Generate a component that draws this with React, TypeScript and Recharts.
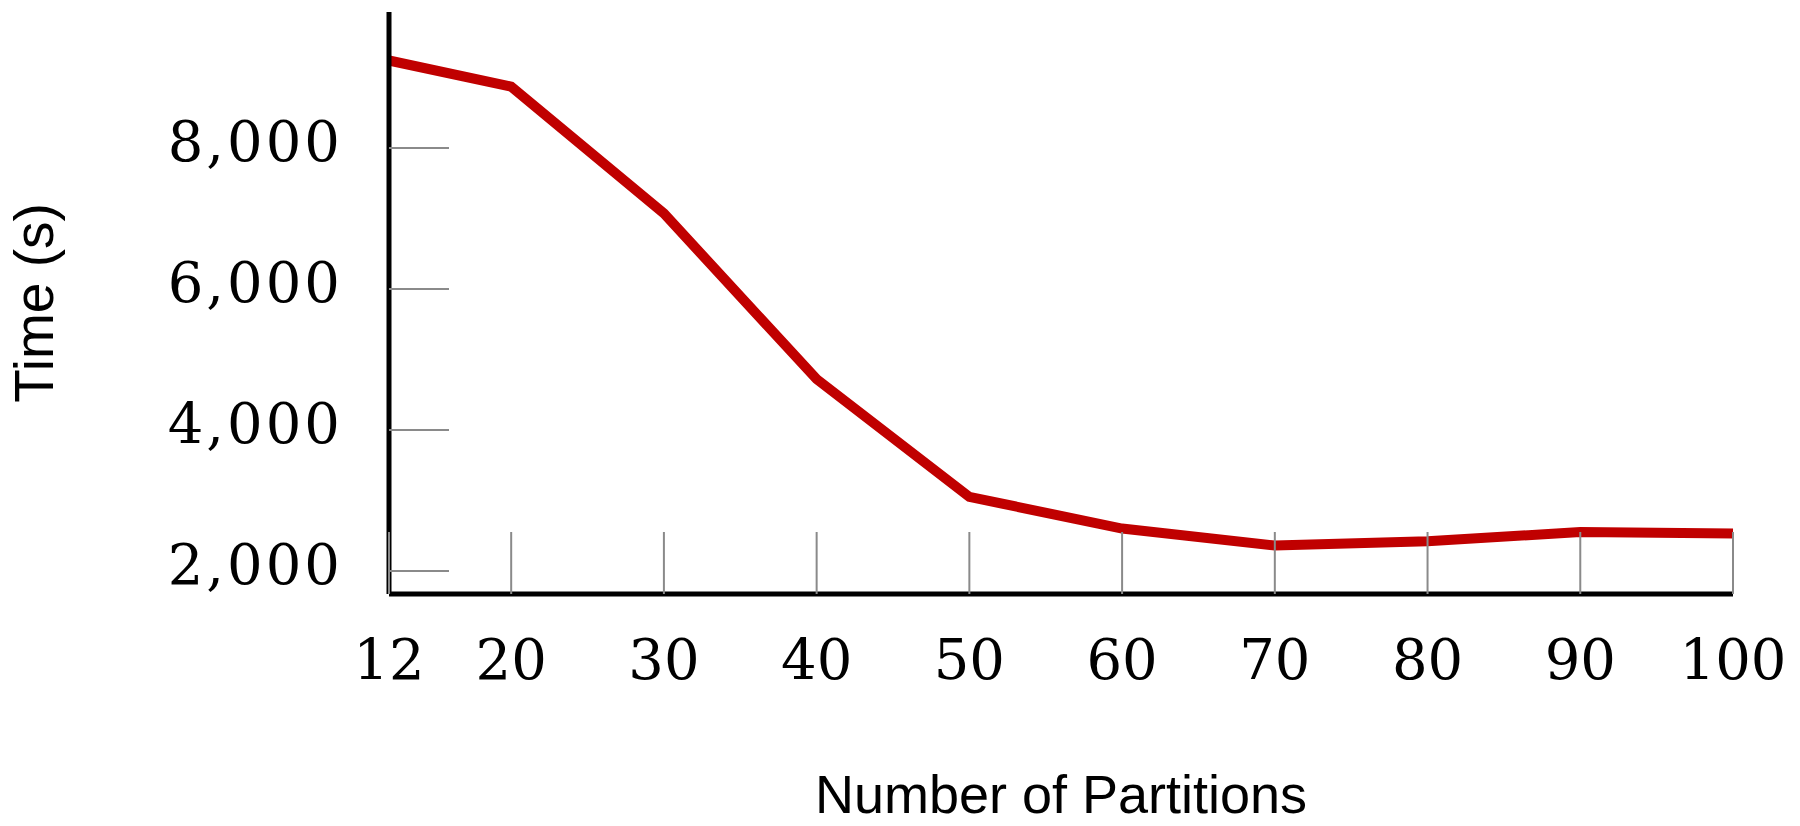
import { LineChart, Line, XAxis, YAxis } from "recharts";

// Number of partitions vs. run time
const partitions = [12, 20, 30, 40, 50, 60, 70, 80, 90, 100];
const timeSeconds = [9240, 8870, 7070, 4720, 3050, 2600, 2360, 2420, 2550, 2530];
const xTicks = [12, 20, 30, 40, 50, 60, 70, 80, 90, 100];
const yTicks = [2000, 4000, 6000, 8000];

const data = partitions.map((p, i) => ({ p, time: timeSeconds[i] }));

const TICK_COLOR = "#8a8a8a";
const LABEL_FONT = "'DejaVu Serif', serif";
const TITLE_FONT = "'Liberation Sans', Arial, sans-serif";

function XTick(props: any) {
    const { x, y, payload } = props;
    return (
        <g>
            <line x1={x} y1={y} x2={x} y2={y - 62} stroke={TICK_COLOR} strokeWidth={2} />
            <text
                x={x}
                y={y + 85}
                textAnchor="middle"
                fontFamily={LABEL_FONT}
                fontSize={56}
                fill="#000"
            >
                {payload.value}
            </text>
        </g>
    );
}

function YTick(props: any) {
    const { x, y, payload } = props;
    return (
        <g>
            <line x1={x} y1={y} x2={x + 60} y2={y} stroke={TICK_COLOR} strokeWidth={2} />
            <text
                x={x - 46}
                y={y + 13}
                textAnchor="end"
                fontFamily={LABEL_FONT}
                fontSize={56}
                letterSpacing={3}
                fill="#000"
            >
                {payload.value.toLocaleString("en-US")}
            </text>
        </g>
    );
}

function XTitle(props: any) {
    const vb = props.viewBox;
    return (
        <text
            x={vb.x + vb.width / 2}
            y={vb.y + 219}
            textAnchor="middle"
            fontFamily={TITLE_FONT}
            fontSize={54}
            fill="#000"
        >
            Number of Partitions
        </text>
    );
}

function YTitle(props: any) {
    const vb = props.viewBox;
    const cx = 34;
    const cy = vb.y + vb.height / 2;
    return (
        <text
            x={cx}
            y={cy}
            transform={`rotate(-90, ${cx}, ${cy})`}
            textAnchor="middle"
            dominantBaseline="central"
            fontFamily={TITLE_FONT}
            fontSize={55}
            fill="#000"
        >
            Time (s)
        </text>
    );
}

export default function App() {
    return (
        <div style={{ position: "absolute", left: 0, top: 0, width: 1800, height: 826, background: "#fff" }}>
            <LineChart
                width={1800}
                height={826}
                data={data}
                margin={{ top: 12, right: 67, bottom: 0, left: 0 }}
            >
                <XAxis
                    dataKey="p"
                    type="number"
                    domain={[12, 100]}
                    ticks={xTicks}
                    interval={0}
                    height={232}
                    tickSize={0}
                    tickMargin={0}
                    tickLine={false}
                    tick={<XTick />}
                    axisLine={{ stroke: "#000", strokeWidth: 5 }}
                    label={<XTitle />}
                />
                <YAxis
                    type="number"
                    domain={[1672, 9928]}
                    ticks={yTicks}
                    interval={0}
                    width={389}
                    tickSize={0}
                    tickMargin={0}
                    tickLine={false}
                    tick={<YTick />}
                    axisLine={{ stroke: "#000", strokeWidth: 5 }}
                    allowDataOverflow
                    label={<YTitle />}
                />
                <Line
                    dataKey="time"
                    stroke="#c00000"
                    strokeWidth={10}
                    dot={false}
                    activeDot={false}
                    strokeLinejoin="miter"
                    isAnimationActive={false}
                />
            </LineChart>
        </div>
    );
}
